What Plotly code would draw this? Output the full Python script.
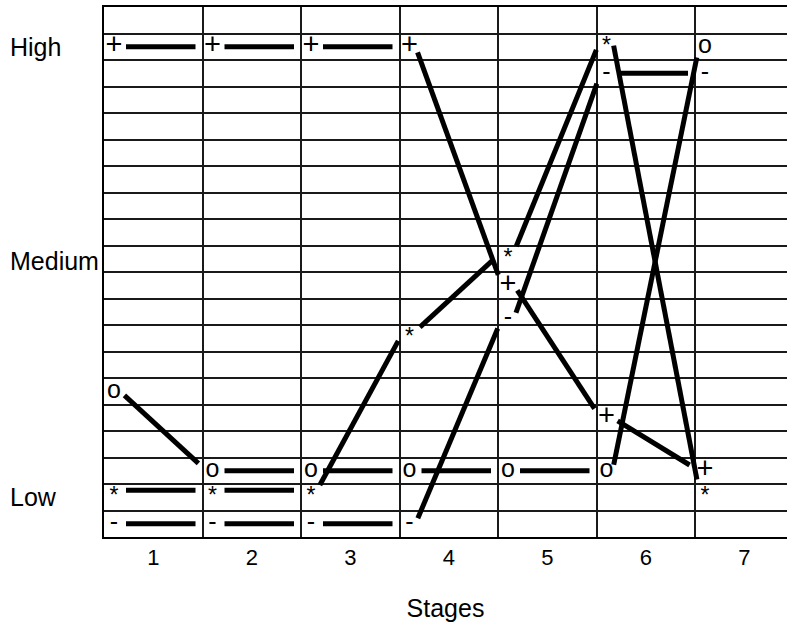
import math
import plotly.graph_objects as go

# ---------------- data ----------------
stages = [1, 2, 3, 4, 5, 6, 7]
stage_labels = ["1", "2", "3", "4", "5", "6", "7"]
plus_values = [19, 19, 19, 19, 10, 5, 3]
star_values = [2, 2, 2, 8, 11, 19, 2]
circle_values = [6, 3, 3, 3, 3, 3, 19]
dash_values = [1, 1, 1, 1, 8.75, 18, 18]
level_labels = ["Low", "Medium", "High"]
level_positions = [2, 10.9, 19]
x_title = "Stages"

# ---------------- layout constants ----------------
W, H = 787, 624
ML, MR, MT, MB = 104, 0, 7, 87
COL_PX = 98.5
PW, PH = W - ML - MR, H - MT - MB
X0 = 0.5
X1 = X0 + PW / COL_PX
Y0, Y1 = 0.5, 20.5
PX_X = PW / (X1 - X0)
PY_Y = PH / (Y1 - Y0)

FONT = "Liberation Sans, Arial, Helvetica, sans-serif"

series = [
    # symbol, values, glyph font size, line y offset (px, up positive)
    ("+", plus_values, 29, 0),
    ("*", star_values, 23, 7),
    ("o", circle_values, 25, 0),
    ("-", dash_values, 25, 0),
]

GLYPH_OFF = 10   # px right of column edge
START_OFF = 16   # line start anchor, px right of column edge
END_OFF = 4      # line end anchor, px right of column edge
TRIM_START = 6
TRIM_END = 11

fig = go.Figure()

for sym, vals, fsize, yoff in series:
    fig.add_trace(go.Scatter(
        x=[s - 0.5 + GLYPH_OFF / PX_X for s in stages],
        y=vals,
        mode="text",
        text=[sym] * len(vals),
        textposition="middle center",
        textfont=dict(family=FONT, size=fsize, color="black"),
        showlegend=False,
        hoverinfo="skip",
        cliponaxis=False,
    ))

for sym, vals, fsize, yoff in series:
    xs, ys = [], []
    for i in range(len(stages) - 1):
        sx = stages[i] - 0.5 + START_OFF / PX_X
        ex = stages[i + 1] - 0.5 + END_OFF / PX_X
        sy = vals[i] + yoff / PY_Y
        ey = vals[i + 1] + yoff / PY_Y
        dxp = (ex - sx) * PX_X
        dyp = (ey - sy) * PY_Y
        L = math.hypot(dxp, dyp)
        a = TRIM_START / L
        b = 1 - TRIM_END / L
        xs += [sx + (ex - sx) * a, sx + (ex - sx) * b, None]
        ys += [sy + (ey - sy) * a, sy + (ey - sy) * b, None]
    fig.add_trace(go.Scatter(
        x=xs, y=ys, mode="lines",
        line=dict(color="black", width=5),
        showlegend=False, hoverinfo="skip",
    ))

annotations = []
for lab, pos in zip(level_labels, level_positions):
    annotations.append(dict(
        text=lab, x=(8 - ML) / PW, xref="paper", y=pos, yref="y",
        xanchor="left", yanchor="middle", showarrow=False,
        font=dict(family=FONT, size=25, color="black"),
    ))

fig.update_layout(
    width=W, height=H,
    margin=dict(l=ML, r=MR, t=MT, b=MB, pad=0, autoexpand=False),
    paper_bgcolor="white", plot_bgcolor="white",
    showlegend=False,
    annotations=annotations,
    xaxis=dict(
        range=[X0, X1], tickmode="array", tickvals=stages, ticktext=stage_labels,
        showgrid=False, zeroline=False, ticks="",
        tickfont=dict(family=FONT, size=22, color="black"),
        showline=True, linecolor="black", linewidth=2, mirror=True,
        minor=dict(tickmode="array", tickvals=[s + 0.5 for s in stages[:-1]],
                   showgrid=True, gridcolor="#1a1a1a", gridwidth=1.5, ticks=""),
        title=dict(text=x_title, font=dict(family=FONT, size=25, color="black"), standoff=30),
        automargin=False,
        fixedrange=True,
    ),
    yaxis=dict(
        range=[Y0, Y1], tickmode="array", tickvals=[Y0 + i for i in range(21)],
        showticklabels=False, ticks="", zeroline=False,
        showgrid=True, gridcolor="#1a1a1a", gridwidth=1.5,
        showline=True, linecolor="black", linewidth=2, mirror=False,
        automargin=False,
        fixedrange=True,
    ),
)

fig.write_html("out.html", config={"displayModeBar": False},
               post_script="document.body.style.margin='0';")
